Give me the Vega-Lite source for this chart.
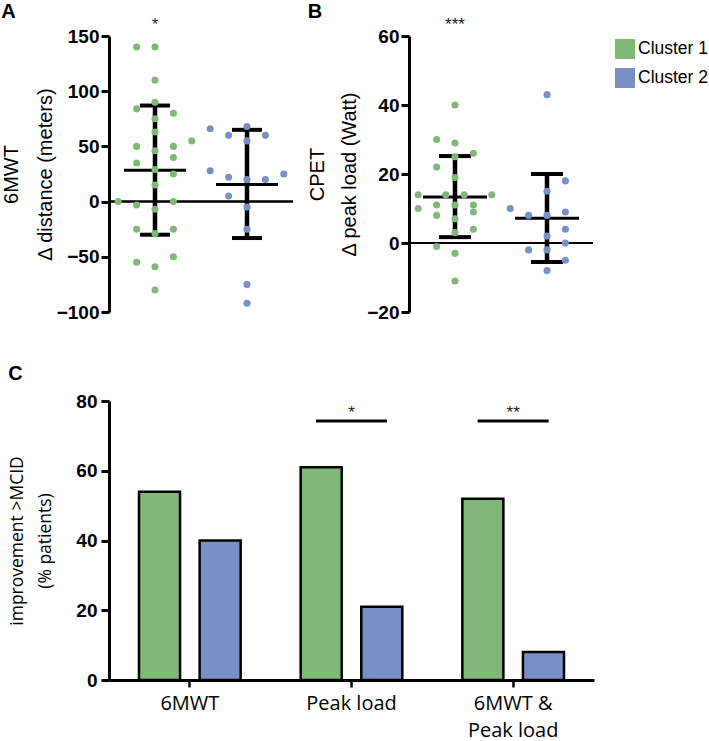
{
  "$schema": "https://vega.github.io/schema/vega-lite/v6.json",
  "background": "white",
  "padding": {"left": 1, "top": 2, "right": 0, "bottom": 0},
  "bounds": "flush",
  "spacing": 365,
  "resolve": {"scale": {"xOffset": "independent", "x": "independent", "y": "independent"}},
  "config": {
    "view": {"stroke": null},
    "axis": {"grid": false, "domainColor": "black", "tickColor": "black", "labelColor": "black", "titleColor": "black"}
  },
  "datasets": {
    "dotsA": [
      {"cluster": "Cluster 1", "slot": -1, "value": 140},
      {"cluster": "Cluster 1", "slot": 0, "value": 140},
      {"cluster": "Cluster 1", "slot": 0, "value": 110},
      {"cluster": "Cluster 1", "slot": 0, "value": 90},
      {"cluster": "Cluster 1", "slot": -1, "value": 84},
      {"cluster": "Cluster 1", "slot": 1, "value": 80},
      {"cluster": "Cluster 1", "slot": 0, "value": 75},
      {"cluster": "Cluster 1", "slot": 0, "value": 63},
      {"cluster": "Cluster 1", "slot": -1, "value": 50},
      {"cluster": "Cluster 1", "slot": 1, "value": 50},
      {"cluster": "Cluster 1", "slot": 2, "value": 55},
      {"cluster": "Cluster 1", "slot": 0, "value": 46},
      {"cluster": "Cluster 1", "slot": 1, "value": 40},
      {"cluster": "Cluster 1", "slot": -1, "value": 35},
      {"cluster": "Cluster 1", "slot": 0, "value": 29},
      {"cluster": "Cluster 1", "slot": 1, "value": 25},
      {"cluster": "Cluster 1", "slot": 0, "value": 15},
      {"cluster": "Cluster 1", "slot": -2, "value": 0},
      {"cluster": "Cluster 1", "slot": -1, "value": -3},
      {"cluster": "Cluster 1", "slot": 1, "value": 0},
      {"cluster": "Cluster 1", "slot": 0, "value": -7},
      {"cluster": "Cluster 1", "slot": -1, "value": -25},
      {"cluster": "Cluster 1", "slot": 1, "value": -25},
      {"cluster": "Cluster 1", "slot": 0, "value": -29},
      {"cluster": "Cluster 1", "slot": 1, "value": -50},
      {"cluster": "Cluster 1", "slot": -1, "value": -55},
      {"cluster": "Cluster 1", "slot": 0, "value": -59},
      {"cluster": "Cluster 1", "slot": 0, "value": -80},
      {"cluster": "Cluster 2", "slot": -2, "value": 66},
      {"cluster": "Cluster 2", "slot": -1, "value": 60},
      {"cluster": "Cluster 2", "slot": 1, "value": 60},
      {"cluster": "Cluster 2", "slot": 0, "value": 68},
      {"cluster": "Cluster 2", "slot": 0, "value": 55},
      {"cluster": "Cluster 2", "slot": -2, "value": 28},
      {"cluster": "Cluster 2", "slot": -1, "value": 22},
      {"cluster": "Cluster 2", "slot": 0, "value": 20},
      {"cluster": "Cluster 2", "slot": 1, "value": 20},
      {"cluster": "Cluster 2", "slot": 2, "value": 25},
      {"cluster": "Cluster 2", "slot": -1, "value": 5},
      {"cluster": "Cluster 2", "slot": 0, "value": -5},
      {"cluster": "Cluster 2", "slot": 0, "value": -25},
      {"cluster": "Cluster 2", "slot": 0, "value": -75},
      {"cluster": "Cluster 2", "slot": 0, "value": -92}
    ],
    "sumA": [
      {"cluster": "Cluster 1", "mean": 28.5, "lo": -30, "hi": 87, "star": "*", "sy": 160.3, "zero": 0},
      {"cluster": "Cluster 2", "mean": 15.5, "lo": -33, "hi": 65, "star": "", "sy": 160.3, "zero": 0}
    ],
    "dotsB": [
      {"cluster": "Cluster 1", "slot": 0, "value": 40},
      {"cluster": "Cluster 1", "slot": -1, "value": 30},
      {"cluster": "Cluster 1", "slot": 0, "value": 29},
      {"cluster": "Cluster 1", "slot": 1, "value": 26},
      {"cluster": "Cluster 1", "slot": 0, "value": 25},
      {"cluster": "Cluster 1", "slot": -1, "value": 22},
      {"cluster": "Cluster 1", "slot": 0, "value": 19},
      {"cluster": "Cluster 1", "slot": -2, "value": 14},
      {"cluster": "Cluster 1", "slot": -0.5, "value": 14},
      {"cluster": "Cluster 1", "slot": 0.5, "value": 14},
      {"cluster": "Cluster 1", "slot": 2, "value": 14},
      {"cluster": "Cluster 1", "slot": -2, "value": 10},
      {"cluster": "Cluster 1", "slot": -1, "value": 11},
      {"cluster": "Cluster 1", "slot": 0, "value": 11},
      {"cluster": "Cluster 1", "slot": 1, "value": 11},
      {"cluster": "Cluster 1", "slot": 1, "value": 9},
      {"cluster": "Cluster 1", "slot": -1, "value": 8},
      {"cluster": "Cluster 1", "slot": 0, "value": 7},
      {"cluster": "Cluster 1", "slot": 1, "value": 4},
      {"cluster": "Cluster 1", "slot": 0, "value": 3},
      {"cluster": "Cluster 1", "slot": -1, "value": -1},
      {"cluster": "Cluster 1", "slot": 0, "value": -3},
      {"cluster": "Cluster 1", "slot": 0, "value": -11},
      {"cluster": "Cluster 2", "slot": 0, "value": 43},
      {"cluster": "Cluster 2", "slot": 1, "value": 18},
      {"cluster": "Cluster 2", "slot": 0, "value": 15},
      {"cluster": "Cluster 2", "slot": -2, "value": 10},
      {"cluster": "Cluster 2", "slot": -1, "value": 8},
      {"cluster": "Cluster 2", "slot": 0, "value": 8},
      {"cluster": "Cluster 2", "slot": 1, "value": 9},
      {"cluster": "Cluster 2", "slot": 1, "value": 4},
      {"cluster": "Cluster 2", "slot": 0, "value": 2},
      {"cluster": "Cluster 2", "slot": 1, "value": 0},
      {"cluster": "Cluster 2", "slot": -1, "value": -2},
      {"cluster": "Cluster 2", "slot": 0, "value": -2},
      {"cluster": "Cluster 2", "slot": 1, "value": -5},
      {"cluster": "Cluster 2", "slot": 0, "value": -8}
    ],
    "sumB": [
      {"cluster": "Cluster 1", "mean": 13.3, "lo": 1.7, "hi": 25.2, "star": "***", "sy": 63.3, "zero": 0},
      {"cluster": "Cluster 2", "mean": 7.2, "lo": -5.5, "hi": 20, "star": "", "sy": 63.3, "zero": 0}
    ],
    "bars": [
      {"category": "6MWT", "cluster": "Cluster 1", "pct": 54},
      {"category": "6MWT", "cluster": "Cluster 2", "pct": 40},
      {"category": "Peak load", "cluster": "Cluster 1", "pct": 61},
      {"category": "Peak load", "cluster": "Cluster 2", "pct": 21},
      {"category": "6MWT & Peak load", "cluster": "Cluster 1", "pct": 52},
      {"category": "6MWT & Peak load", "cluster": "Cluster 2", "pct": 8}
    ],
    "sig": [
      {"category": "Peak load", "line": 74.3, "label": "*", "ly": 76.6},
      {"category": "6MWT & Peak load", "line": 74.3, "label": "**", "ly": 76.6}
    ]
  },
  "vconcat": [
    {
      "bounds": "flush",
      "spacing": 116,
      "resolve": {"scale": {"xOffset": "independent", "x": "independent", "y": "independent"}},
      "hconcat": [
        {
          "width": 184,
          "height": 276,
          "title": {"text": "A", "anchor": "start", "frame": "bounds", "font": "Liberation Sans", "fontSize": 20, "fontWeight": "bold", "color": "black", "offset": -6.5},
          "layer": [
            {
              "data": {"name": "sumA"},
              "mark": {"type": "rule", "strokeWidth": 2, "color": "black"},
              "encoding": {"y": {"field": "zero", "type": "quantitative"}}
            },
            {
              "data": {"name": "sumA"},
              "mark": {"type": "rule", "strokeWidth": 4.5, "color": "black"},
              "encoding": {
                "x": {"field": "cluster", "type": "nominal", "axis": null},
                "y": {"field": "lo", "type": "quantitative"},
                "y2": {"field": "hi"}
              }
            },
            {
              "data": {"name": "sumA"},
              "mark": {"type": "tick", "size": 30, "thickness": 4, "color": "black", "opacity": 1, "orient": "horizontal"},
              "encoding": {
                "x": {"field": "cluster", "type": "nominal", "axis": null},
                "y": {"field": "lo", "type": "quantitative"}
              }
            },
            {
              "data": {"name": "sumA"},
              "mark": {"type": "tick", "size": 30, "thickness": 4, "color": "black", "opacity": 1, "orient": "horizontal"},
              "encoding": {
                "x": {"field": "cluster", "type": "nominal", "axis": null},
                "y": {"field": "hi", "type": "quantitative"}
              }
            },
            {
              "data": {"name": "sumA"},
              "mark": {"type": "tick", "size": 62, "thickness": 3, "color": "black", "opacity": 1, "orient": "horizontal"},
              "encoding": {
                "x": {"field": "cluster", "type": "nominal", "axis": null},
                "y": {"field": "mean", "type": "quantitative"}
              }
            },
            {
              "data": {"name": "dotsA"},
              "mark": {"type": "circle", "size": 50, "opacity": 1},
              "encoding": {
                "x": {"field": "cluster", "type": "nominal", "axis": null, "scale": {"domain": ["Cluster 1", "Cluster 2"], "paddingInner": 0, "paddingOuter": 0}},
                "xOffset": {"field": "slot", "type": "ordinal", "scale": {"domain": [-2, -1.5, -1, -0.5, 0, 0.5, 1, 1.5, 2], "paddingInner": 0, "paddingOuter": 2.86}},
                "y": {
                  "field": "value", "type": "quantitative",
                  "scale": {"domain": [-100, 150], "nice": false, "zero": false},
                  "axis": {"title": ["6MWT", "Δ distance (meters)"], "values": [-100, -50, 0, 50, 100, 150], "domainWidth": 3, "tickWidth": 3, "tickSize": 8, "labelFont": "Liberation Sans", "labelFontWeight": "bold", "labelFontSize": 19, "labelPadding": 2, "titleFont": "Liberation Sans", "titleFontSize": 20, "titleFontWeight": "normal", "titleLineHeight": 34, "titlePadding": 1}
                },
                "color": {"field": "cluster", "type": "nominal", "scale": {"domain": ["Cluster 1", "Cluster 2"], "range": ["#80b977", "#7a8fc5"]}, "legend": {"title": null, "orient": "none", "legendX": 506, "legendY": 3, "symbolType": "square", "symbolSize": 400, "symbolStrokeWidth": 0, "symbolOpacity": 1, "labelFont": "Liberation Sans", "labelFontSize": 17.5, "labelColor": "black", "rowPadding": 9, "labelOffset": 3}}
              }
            },
            {
              "data": {"name": "sumA"},
              "mark": {"type": "text", "font": "Liberation Sans", "fontSize": 17, "baseline": "middle", "color": "#222"},
              "encoding": {
                "x": {"field": "cluster", "type": "nominal", "axis": null},
                "y": {"field": "sy", "type": "quantitative"},
                "text": {"field": "star"}
              }
            }
          ]
        },
        {
          "width": 184,
          "height": 276,
          "title": {"text": "B", "anchor": "start", "frame": "bounds", "font": "Liberation Sans", "fontSize": 20, "fontWeight": "bold", "color": "black", "offset": -6.5},
          "layer": [
            {
              "data": {"name": "sumB"},
              "mark": {"type": "rule", "strokeWidth": 2, "color": "black"},
              "encoding": {"y": {"field": "zero", "type": "quantitative"}}
            },
            {
              "data": {"name": "sumB"},
              "mark": {"type": "rule", "strokeWidth": 4.5, "color": "black"},
              "encoding": {
                "x": {"field": "cluster", "type": "nominal", "axis": null},
                "y": {"field": "lo", "type": "quantitative"},
                "y2": {"field": "hi"}
              }
            },
            {
              "data": {"name": "sumB"},
              "mark": {"type": "tick", "size": 32, "thickness": 4, "color": "black", "opacity": 1, "orient": "horizontal"},
              "encoding": {
                "x": {"field": "cluster", "type": "nominal", "axis": null},
                "y": {"field": "lo", "type": "quantitative"}
              }
            },
            {
              "data": {"name": "sumB"},
              "mark": {"type": "tick", "size": 32, "thickness": 4, "color": "black", "opacity": 1, "orient": "horizontal"},
              "encoding": {
                "x": {"field": "cluster", "type": "nominal", "axis": null},
                "y": {"field": "hi", "type": "quantitative"}
              }
            },
            {
              "data": {"name": "sumB"},
              "mark": {"type": "tick", "size": 64, "thickness": 3, "color": "black", "opacity": 1, "orient": "horizontal"},
              "encoding": {
                "x": {"field": "cluster", "type": "nominal", "axis": null},
                "y": {"field": "mean", "type": "quantitative"}
              }
            },
            {
              "data": {"name": "dotsB"},
              "mark": {"type": "circle", "size": 50, "opacity": 1},
              "encoding": {
                "x": {"field": "cluster", "type": "nominal", "axis": null, "scale": {"domain": ["Cluster 1", "Cluster 2"], "paddingInner": 0, "paddingOuter": 0}},
                "xOffset": {"field": "slot", "type": "ordinal", "scale": {"domain": [-2, -1.5, -1, -0.5, 0, 0.5, 1, 1.5, 2], "paddingInner": 0, "paddingOuter": 2.86}},
                "y": {
                  "field": "value", "type": "quantitative",
                  "scale": {"domain": [-20, 60], "nice": false, "zero": false},
                  "axis": {"title": ["CPET", "Δ peak load (Watt)"], "values": [-20, 0, 20, 40, 60], "domainWidth": 3, "tickWidth": 3, "tickSize": 8, "labelFont": "Liberation Sans", "labelFontWeight": "bold", "labelFontSize": 19, "labelPadding": 2, "titleFont": "Liberation Sans", "titleFontSize": 20, "titleFontWeight": "normal", "titleLineHeight": 32, "titlePadding": 7}
                },
                "color": {"field": "cluster", "type": "nominal", "scale": {"domain": ["Cluster 1", "Cluster 2"], "range": ["#80b977", "#7a8fc5"]}, "legend": {"title": null, "orient": "none", "legendX": 506, "legendY": 3, "symbolType": "square", "symbolSize": 400, "symbolStrokeWidth": 0, "symbolOpacity": 1, "labelFont": "Liberation Sans", "labelFontSize": 17.5, "labelColor": "black", "rowPadding": 9, "labelOffset": 3}}
              }
            },
            {
              "data": {"name": "sumB"},
              "mark": {"type": "text", "font": "Liberation Sans", "fontSize": 17, "baseline": "middle", "color": "#222"},
              "encoding": {
                "x": {"field": "cluster", "type": "nominal", "axis": null},
                "y": {"field": "sy", "type": "quantitative"},
                "text": {"field": "star"}
              }
            }
          ]
        }
      ]
    },
    {
      "width": 485,
      "height": 279,
      "title": {"text": "C", "anchor": "start", "frame": "bounds", "font": "Liberation Sans", "fontSize": 20, "fontWeight": "bold", "color": "black", "offset": 8},
      "layer": [
        {
          "data": {"name": "bars"},
          "mark": {"type": "bar", "stroke": "black", "strokeWidth": 2.5},
          "encoding": {
            "x": {
              "field": "category", "type": "nominal",
              "scale": {"domain": ["6MWT", "Peak load", "6MWT & Peak load"], "paddingInner": 0, "paddingOuter": 0},
              "axis": {"title": null, "labelAngle": 0, "domainWidth": 3, "tickWidth": 2.5, "tickSize": 7, "labelFont": "Open Sans", "labelFontSize": 20, "labelPadding": 6, "labelLineHeight": 27, "labelBaseline": "top", "labelExpr": "datum.value == '6MWT & Peak load' ? ['6MWT &', 'Peak load'] : datum.value"}
            },
            "xOffset": {"field": "cluster", "type": "nominal", "scale": {"domain": ["Cluster 1", "Cluster 2"], "paddingInner": 0.323, "paddingOuter": 0.495}},
            "y": {
              "field": "pct", "type": "quantitative",
              "scale": {"domain": [0, 80], "nice": false},
              "axis": {"title": ["improvement >MCID", "(% patients)"], "values": [0, 20, 40, 60, 80], "domainWidth": 3, "tickWidth": 3, "tickSize": 8, "labelFont": "Liberation Sans", "labelFontWeight": "bold", "labelFontSize": 19, "labelPadding": 4, "titleFont": "Open Sans", "titleFontSize": 17.5, "titleFontWeight": "normal", "titleLineHeight": 28, "titlePadding": 21.5}
            },
            "color": {"field": "cluster", "type": "nominal", "scale": {"domain": ["Cluster 1", "Cluster 2"], "range": ["#80b977", "#7a8fc5"]}, "legend": {"title": null, "orient": "none", "legendX": 506, "legendY": 3, "symbolType": "square", "symbolSize": 400, "symbolStrokeWidth": 0, "symbolOpacity": 1, "labelFont": "Liberation Sans", "labelFontSize": 17.5, "labelColor": "black", "rowPadding": 9, "labelOffset": 3}}
          }
        },
        {
          "data": {"name": "sig"},
          "mark": {"type": "tick", "size": 71, "thickness": 3, "color": "black", "opacity": 1, "orient": "horizontal"},
          "encoding": {
            "x": {"field": "category", "type": "nominal"},
            "y": {"field": "line", "type": "quantitative"}
          }
        },
        {
          "data": {"name": "sig"},
          "mark": {"type": "text", "font": "Liberation Sans", "fontSize": 17, "baseline": "middle", "color": "#222"},
          "encoding": {
            "x": {"field": "category", "type": "nominal"},
            "y": {"field": "ly", "type": "quantitative"},
            "text": {"field": "label"}
          }
        }
      ]
    }
  ]
}
